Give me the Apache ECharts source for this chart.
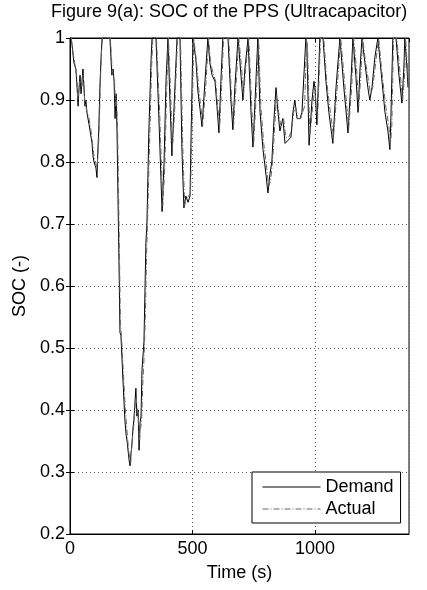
<!DOCTYPE html>
<html>
<head>
<meta charset="utf-8">
<script src="https://cdn.jsdelivr.net/npm/echarts@6/dist/echarts.min.js"></script>
<style>
html,body{margin:0;padding:0;background:#fff;}
#c{width:427px;height:590px;}
</style>
</head>
<body>
<div id="c"></div>
<script>
const titleText = "Figure 9(a): SOC of the PPS (Ultracapacitor)";
const xName = "Time (s)";
const yName = "SOC (-)";
const seriesNames = ["Demand", "Actual"];
const xTicks = [0, 500, 1000];
const yTicks = [0.2, 0.3, 0.4, 0.5, 0.6, 0.7, 0.8, 0.9, 1];

const demandT = [4,8,16,24,29,33,37,41,45,49,53,57,61,65,69,78,86,90,94,98,102,106,110,114,118,122,127,131,163,171,176,180,184,188,192,196,200,204,208,216,224,229,233,241,245,249,253,257,261,269,273,278,282,286,290,294,302,306,310,314,322,331,335,351,363,376,384,392,400,408,416,424,437,449,457,465,473,482,490,494,502,514,522,531,539,551,563,571,580,592,600,608,616,624,645,657,665,673,686,698,706,714,727,739,747,759,767,776,788,800,808,816,824,833,841,849,857,869,878,890,902,910,918,927,939,947,955,963,967,976,988,996,1000,1008,1020,1033,1045,1057,1073,1086,1102,1118,1135,1147,1155,1167,1176,1184,1192,1204,1216,1224,1233,1245,1257,1269,1286,1298,1306,1310,1318,1331,1343,1355,1363,1367,1376,1380];
const demandSoc = [1.0,0.99,0.96,0.95,0.92,0.89,0.92,0.94,0.91,0.93,0.95,0.92,0.89,0.90,0.88,0.86,0.84,0.83,0.81,0.80,0.80,0.79,0.775,0.82,0.86,0.92,0.97,1.0,1.0,0.94,0.95,0.93,0.87,0.91,0.85,0.74,0.64,0.525,0.52,0.45,0.385,0.36,0.35,0.32,0.31,0.33,0.345,0.37,0.385,0.435,0.39,0.40,0.335,0.38,0.39,0.465,0.51,0.59,0.67,0.70,0.85,0.965,1.0,1.0,0.87,0.72,0.80,0.93,1.0,0.90,0.81,0.88,1.0,1.0,0.82,0.726,0.745,0.735,0.745,0.835,1.0,0.965,0.915,0.885,0.857,0.93,1.0,0.96,0.94,0.93,0.89,0.847,0.93,1.0,1.0,0.90,0.852,0.92,1.0,0.94,0.90,0.95,1.0,0.88,0.824,0.93,1.0,0.88,0.82,0.78,0.75,0.78,0.80,0.87,0.92,0.88,0.85,0.87,0.83,0.835,0.84,0.88,0.90,0.87,0.87,0.88,0.88,1.0,0.99,0.827,0.90,0.93,0.92,0.86,1.0,1.0,0.93,0.88,0.83,0.92,1.0,0.92,0.847,0.93,1.0,0.94,0.88,0.95,1.0,0.96,0.92,0.90,0.92,0.97,1.0,0.95,0.88,0.85,0.82,0.87,1.0,1.0,0.94,0.895,0.95,1.0,0.95,0.92];

const actualT = [5,11,19,27,32,36,40,44,48,52,56,60,64,70,78,86,92,98,104,110,113,117,121,125,129,133,165,172,177,182,186,190,194,198,202,206,210,218,226,232,238,244,248,252,256,262,266,270,275,279,284,288,292,297,303,308,312,317,325,333,338,353,366,379,387,395,402,411,418,427,439,451,460,468,476,484,492,497,505,517,525,534,542,554,566,574,583,595,603,611,619,627,648,660,668,676,689,701,709,717,730,742,750,762,770,779,791,803,811,819,827,836,844,852,860,872,881,893,905,913,921,930,942,950,958,966,970,979,991,999,1011,1023,1036,1048,1060,1076,1089,1105,1121,1138,1150,1158,1170,1179,1187,1195,1207,1219,1227,1236,1248,1260,1272,1289,1301,1309,1314,1321,1334,1346,1358,1366,1370,1378,1383];
const actualSoc = [1.0,0.98,0.96,0.94,0.90,0.90,0.93,0.93,0.92,0.94,0.93,0.90,0.90,0.88,0.87,0.85,0.83,0.81,0.80,0.79,0.79,0.83,0.88,0.94,0.98,1.0,1.0,0.95,0.95,0.93,0.89,0.90,0.86,0.76,0.65,0.54,0.52,0.46,0.40,0.37,0.34,0.32,0.315,0.34,0.36,0.38,0.41,0.42,0.40,0.39,0.35,0.37,0.38,0.44,0.49,0.56,0.64,0.71,0.83,0.95,1.0,1.0,0.88,0.73,0.79,0.92,1.0,0.91,0.82,0.88,1.0,1.0,0.83,0.73,0.74,0.74,0.75,0.83,1.0,0.96,0.92,0.89,0.86,0.92,1.0,0.96,0.945,0.93,0.89,0.855,0.92,1.0,1.0,0.90,0.86,0.91,1.0,0.95,0.91,0.95,1.0,0.89,0.83,0.92,1.0,0.89,0.83,0.79,0.76,0.77,0.80,0.86,0.91,0.88,0.86,0.87,0.84,0.84,0.85,0.88,0.89,0.87,0.87,0.88,0.89,1.0,0.98,0.84,0.89,0.92,0.87,1.0,1.0,0.93,0.89,0.84,0.91,1.0,0.93,0.855,0.92,1.0,0.95,0.89,0.94,1.0,0.96,0.93,0.91,0.92,0.96,1.0,0.95,0.89,0.86,0.83,0.86,1.0,1.0,0.95,0.90,0.94,1.0,0.95,0.92];

const X_MAX = 1384;
const FONT = "'Liberation Sans', Arial, sans-serif";

function pairs(t, v) { return t.map((x, i) => [x, v[i]]); }

const chart = echarts.init(document.getElementById('c'), null, {renderer: 'canvas'});
const baseText = {color: '#000', fontFamily: FONT, fontSize: 18};

chart.setOption({
  animation: false,
  backgroundColor: '#fff',
  textStyle: {fontFamily: FONT, color: '#000'},
  title: {
    text: titleText,
    left: 51, top: 3,
    padding: 0,
    textStyle: {color: '#000', fontFamily: FONT, fontSize: 18, fontWeight: 'normal'}
  },
  grid: {left: 70, right: 18, top: 38, bottom: 56, show: true, borderColor: '#000', borderWidth: 1, backgroundColor: '#fff'},
  legend: {
    orient: 'vertical',
    left: 252, top: 472,
    padding: [6, 7, 5, 10],
    itemGap: 4,
    itemWidth: 58,
    itemHeight: 20,
    backgroundColor: '#fff',
    borderColor: '#000',
    borderWidth: 1,
    borderRadius: 0,
    itemStyle: {opacity: 0, borderWidth: 0},
    lineStyle: {width: 1},
    textStyle: Object.assign({}, baseText),
    data: seriesNames
  },
  xAxis: [{
    type: 'value', min: 0, max: X_MAX, interval: 500,
    name: xName, nameLocation: 'middle', nameGap: 30,
    nameTextStyle: Object.assign({}, baseText),
    axisLine: {show: true, lineStyle: {color: '#000', width: 1}},
    axisTick: {show: true, inside: true, length: 4, lineStyle: {color: '#000'}},
    axisLabel: Object.assign({margin: 6, showMaxLabel: false, formatter: v => xTicks.indexOf(v) >= 0 ? String(v) : ''}, baseText),
    splitLine: {show: true, lineStyle: {color: '#555', width: 1, type: [1, 3]}}
  }, {
    type: 'value', min: 0, max: X_MAX, interval: 500, position: 'top',
    axisLine: {show: true, lineStyle: {color: '#000'}},
    axisTick: {show: true, inside: true, length: 4, lineStyle: {color: '#000'}},
    axisLabel: {show: false}, splitLine: {show: false}
  }],
  yAxis: [{
    type: 'value', min: 0.2, max: 1, interval: 0.1,
    name: yName, nameLocation: 'middle', nameGap: 40, nameRotate: 90,
    nameTextStyle: Object.assign({}, baseText),
    axisLine: {show: true, lineStyle: {color: '#000', width: 1}},
    axisTick: {show: true, inside: true, length: 4, lineStyle: {color: '#000'}},
    axisLabel: Object.assign({margin: 5, formatter: v => {
      const r = Math.round(v * 10) / 10;
      return yTicks.indexOf(r) >= 0 ? String(r) : '';
    }}, baseText),
    splitLine: {show: true, lineStyle: {color: '#555', width: 1, type: [1, 3]}}
  }, {
    type: 'value', min: 0.2, max: 1, interval: 0.1, position: 'right',
    axisLine: {show: true, lineStyle: {color: '#000'}},
    axisTick: {show: true, inside: true, length: 4, lineStyle: {color: '#000'}},
    axisLabel: {show: false}, splitLine: {show: false}
  }],
  series: [{
    name: seriesNames[0], type: 'line', xAxisIndex: 0, yAxisIndex: 0,
    data: pairs(demandT, demandSoc),
    symbol: 'none', smooth: false,
    lineStyle: {color: '#000', width: 1},
    itemStyle: {color: '#000'}
  }, {
    name: seriesNames[1], type: 'line', xAxisIndex: 0, yAxisIndex: 0,
    data: pairs(actualT, actualSoc),
    symbol: 'none', smooth: false,
    lineStyle: {color: '#666', width: 1, type: [6, 2, 1, 2]},
    itemStyle: {color: '#666'}
  }]
});
</script>
</body>
</html>
